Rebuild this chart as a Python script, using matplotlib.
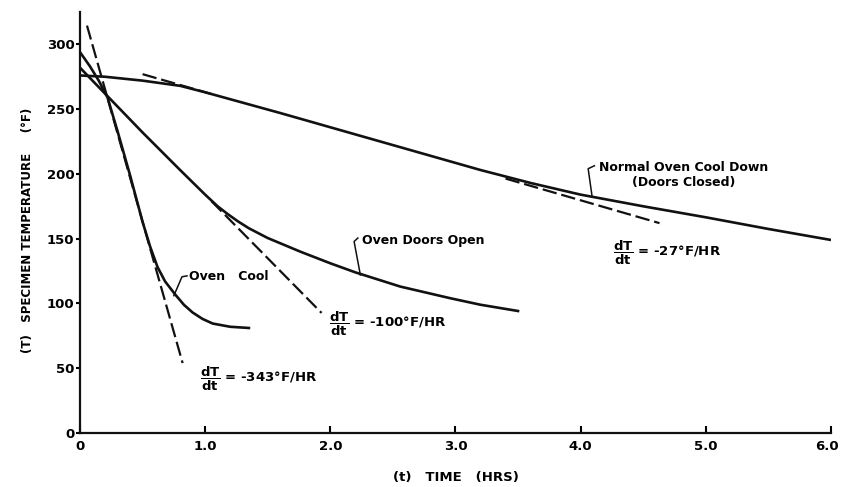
import numpy as np
import matplotlib.pyplot as plt
from matplotlib.transforms import ScaledTranslation

# curves, time in hours, temperature in deg F
normal_t = [0, 0.2, 0.5, 0.8, 1.0, 1.3, 1.6, 2.0, 2.4, 2.8, 3.2, 3.6, 4.0, 4.5, 5.0, 5.5, 6.0]
normal_T = [276, 275, 272, 268, 263, 255, 247, 236, 225, 214, 203, 193, 184, 175, 166.5, 157.5, 149]

doors_t = [0, 0.22, 0.5, 0.8, 1.0, 1.1, 1.18, 1.26, 1.35, 1.5, 1.76, 2.0, 2.2, 2.56, 2.96, 3.2, 3.51]
doors_T = [282, 260, 232, 203, 184, 175, 169, 163.5, 158, 150.5, 140, 131, 124, 113, 104, 99, 94]

cool_t = [0, 0.08, 0.15, 0.22, 0.3, 0.4, 0.5, 0.56, 0.62, 0.68, 0.76, 0.83, 0.9, 0.98, 1.06, 1.2, 1.36]
cool_T = [294, 283, 272, 259, 233, 199, 163, 144, 128, 117, 107, 99, 93, 88, 84.5, 82, 81]

# tangent lines (dT/dt)
tan343_t = [0.056, 0.82]
tan343_T = [314.5, 54]
tan100_t = [1.05, 1.93]
tan100_T = [179, 92.7]
tan27_t = [0.50, 1.05, np.nan, 3.40, 4.63]
tan27_T = [277, 261.7, np.nan, 196.4, 162]

xticks = [0, 1, 2, 3, 4, 5, 6]
xticklabels = ['0', '1.0', '2.0', '3.0', '4.0', '5.0', '6.0']
yticks = [0, 50, 100, 150, 200, 250, 300]

plt.rcParams['font.family'] = ['DejaVu Sans']
plt.rcParams['font.weight'] = 'bold'

ink = '#111111'
fig = plt.figure(figsize=(8.41, 4.87), dpi=100)
ax = fig.add_axes([0.0951, 0.1109, 0.893, 0.8645])

for t, T in [(normal_t, normal_T), (doors_t, doors_T), (cool_t, cool_T)]:
    ax.plot(t, T, color=ink, lw=1.9, solid_capstyle='butt', solid_joinstyle='round')

for t, T in [(tan343_t, tan343_T), (tan100_t, tan100_T), (tan27_t, tan27_T)]:
    ax.plot(t, T, color=ink, lw=1.6, dashes=(6.5, 2.2))

# curve labels with leader strokes
ax.plot([0.855, 0.815, 0.75], [121.3, 120.6, 106], color=ink, lw=1.1)
ax.text(0.87, 120.5, 'Oven   Cool', fontsize=9, ha='left', va='center')

ax.plot([2.22, 2.19, 2.24], [150.5, 147.8, 122], color=ink, lw=1.1)
ax.text(2.25, 148.5, 'Oven Doors Open', fontsize=9, ha='left', va='center')

ax.plot([4.11, 4.06, 4.09], [206.3, 204, 183.5], color=ink, lw=1.1)
ax.text(4.82, 199.5, 'Normal Oven Cool Down\n(Doors Closed)', fontsize=9,
        ha='center', va='center', multialignment='center', linespacing=1.2)

frac = r'$\dfrac{\mathbf{dT}}{\mathbf{dt}}$'
ax.text(0.96, 42, frac + ' = -343°F/HR', fontsize=9.5, ha='left', va='center')
ax.text(1.99, 84, frac + ' = -100°F/HR', fontsize=9.5, ha='left', va='center')
ax.text(4.26, 139, frac + ' = -27°F/HR', fontsize=9.5, ha='left', va='center')

ax.set_xlim(0, 6)
ax.set_ylim(0, 325)
ax.set_xticks(xticks)
ax.set_xticklabels(xticklabels)
ax.set_yticks(yticks)
ax.tick_params(axis='x', direction='in', length=5, width=1.5, pad=5, labelsize=9.5)
ax.tick_params(axis='y', direction='out', length=3, width=1.5, pad=1, labelsize=9.5)
last = ax.get_xticklabels()[-1]
last.set_transform(last.get_transform() + ScaledTranslation(-0.04, 0, fig.dpi_scale_trans))
for side in ['top', 'right']:
    ax.spines[side].set_visible(False)
for side in ['left', 'bottom']:
    ax.spines[side].set_linewidth(1.6)
    ax.spines[side].set_color(ink)

fig.text(28 / 841, 1 - 230 / 487, '(T)   SPECIMEN TEMPERATURE     (°F)',
         rotation=90, ha='center', va='center', fontsize=8.5)
fig.text(456 / 841, 1 - 477 / 487, '(t)   TIME   (HRS)', ha='center', va='center', fontsize=9.5)

fig.savefig('out.png', dpi=100)
